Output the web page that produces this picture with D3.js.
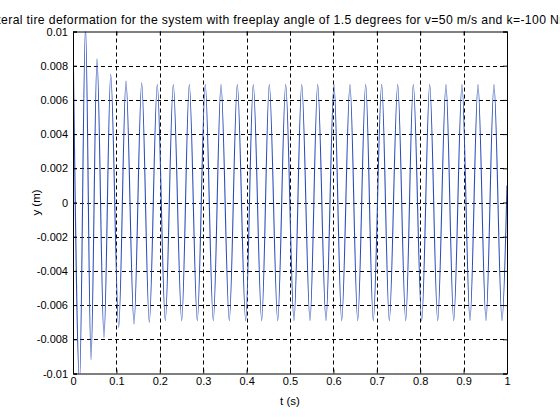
<!DOCTYPE html>
<html>
<head>
<meta charset="utf-8">
<script src="https://cdn.jsdelivr.net/npm/d3@7"></script>
<style>
  body { margin: 0; background: #fff; }
  svg { display: block; font-family: "Liberation Sans", Arial, Helvetica, sans-serif; }
  .axis path, .axis line { stroke: #000; }
  .axis text { font-size: 11px; fill: #000; }
</style>
</head>
<body>
<div id="chart"></div>
<script>
////////////////////////////////////////////////////////////////////////
// Data: key points (start, peaks, troughs, end)

// time of each key point (s)
let keyT = [0, 0.0152, 0.0288, 0.0415, 0.0553, 0.0714, 0.0869, 0.1053,
  0.1221, 0.1406, 0.1583, 0.1758, 0.1942, 0.2127, 0.2311, 0.2505,
  0.2680, 0.2864, 0.3048, 0.3233, 0.3410, 0.3601, 0.3786, 0.3979,
  0.4154, 0.4348, 0.4523, 0.4717, 0.4901, 0.5092, 0.5270, 0.5461,
  0.5638, 0.5829, 0.6014, 0.6191, 0.6382, 0.6560, 0.6744, 0.6919,
  0.7113, 0.7288, 0.7482, 0.7666, 0.7841, 0.8035, 0.8219, 0.8403,
  0.8594, 0.8772, 0.8963, 0.9147, 0.9332, 0.9516, 0.9700, 0.9885, 1.0];

// lateral deformation at each key point (m)
let keyY = [0.0100, -0.0105, 0.0103, -0.0092, 0.0084, -0.0079, 0.0075, -0.0073,
  0.0071, -0.0071, 0.0070, -0.0070, 0.0069, -0.0069, 0.0069, -0.0069,
  0.0069, -0.0069, 0.0069, -0.0069, 0.0069, -0.0069, 0.0069, -0.0069,
  0.0069, -0.0069, 0.0069, -0.0069, 0.0069, -0.0069, 0.0069, -0.0069,
  0.0069, -0.0069, 0.0069, -0.0069, 0.0069, -0.0069, 0.0069, -0.0069,
  0.0069, -0.0069, 0.0069, -0.0069, 0.0069, -0.0069, 0.0069, -0.0069,
  0.0069, -0.0069, 0.0069, -0.0069, 0.0069, -0.0069, 0.0069, -0.0069, 0.0010];

let xTicks = [0, 0.1, 0.2, 0.3, 0.4, 0.5, 0.6, 0.7, 0.8, 0.9, 1];
let xTickLabels = ["0", "0.1", "0.2", "0.3", "0.4", "0.5", "0.6", "0.7", "0.8", "0.9", "1"];
let yTicks = [-0.01, -0.008, -0.006, -0.004, -0.002, 0, 0.002, 0.004, 0.006, 0.008, 0.01];
let yTickLabels = ["-0.01", "-0.008", "-0.006", "-0.004", "-0.002", "0", "0.002", "0.004", "0.006", "0.008", "0.01"];

let titleText = "Lateral tire deformation for the system with freeplay angle of 1.5 degrees for v=50 m/s and k=-100 Nm/rad";
let xLabel = "t (s)";
let yLabel = "y (m)";

////////////////////////////////////////////////////////////////////////
// Layout

let width = 560, height = 420;
let plotLeft = 73, plotRight = 507, plotTop = 31.5, plotBottom = 373.5;

let svg = d3.select("#chart")
  .append("svg")
  .attr("width", width)
  .attr("height", height);

let xScale = d3.scaleLinear().domain([0, 1]).range([plotLeft, plotRight]);
let yScale = d3.scaleLinear().domain([-0.01, 0.01]).range([plotBottom, plotTop]);

// grid (black dashed)
let grid = svg.append("g")
  .attr("stroke", "#000")
  .attr("stroke-width", 1)
  .attr("stroke-dasharray", "4,3");

grid.selectAll(".vgrid")
  .data(xTicks.slice(1, -1))
  .join("line")
  .attr("class", "vgrid")
  .attr("x1", d => Math.round(xScale(d)) + 0.5)
  .attr("x2", d => Math.round(xScale(d)) + 0.5)
  .attr("y1", plotTop)
  .attr("y2", plotBottom);

grid.selectAll(".hgrid")
  .data(yTicks.slice(1, -1))
  .join("line")
  .attr("class", "hgrid")
  .attr("x1", plotLeft)
  .attr("x2", plotRight)
  .attr("y1", d => Math.round(yScale(d)) + 0.5)
  .attr("y2", d => Math.round(yScale(d)) + 0.5);

// the signal, clipped to the axes box
svg.append("clipPath")
  .attr("id", "plotClip")
  .append("rect")
  .attr("x", plotLeft)
  .attr("y", plotTop)
  .attr("width", plotRight - plotLeft)
  .attr("height", plotBottom - plotTop);

let points = keyT.map((t, i) => [t, keyY[i]]);

svg.append("path")
  .datum(points)
  .attr("clip-path", "url(#plotClip)")
  .attr("fill", "none")
  .attr("stroke", "#2c4cba")
  .attr("stroke-width", 1.1)
  .attr("d", d3.line()
    .x(d => xScale(d[0]))
    .y(d => yScale(d[1]))
    .curve(d3.curveMonotoneX));

// axes with inward ticks on all four sides
let tickLen = 4;

svg.append("g")
  .attr("class", "axis")
  .attr("transform", `translate(0, ${plotBottom})`)
  .call(d3.axisBottom(xScale).tickValues(xTicks)
    .tickFormat((d, i) => xTickLabels[i])
    .tickSize(-tickLen).tickPadding(4));

svg.append("g")
  .attr("class", "axis")
  .attr("transform", `translate(0, ${plotTop})`)
  .call(d3.axisTop(xScale).tickValues(xTicks).tickFormat("").tickSize(-tickLen));

svg.append("g")
  .attr("class", "axis")
  .attr("transform", `translate(${plotLeft}, 0)`)
  .call(d3.axisLeft(yScale).tickValues(yTicks)
    .tickFormat((d, i) => yTickLabels[i])
    .tickSize(-tickLen).tickPadding(5));

svg.append("g")
  .attr("class", "axis")
  .attr("transform", `translate(${plotRight}, 0)`)
  .call(d3.axisRight(yScale).tickValues(yTicks).tickFormat("").tickSize(-tickLen));

svg.selectAll(".axis .domain").attr("stroke-width", 1);

// title (wider than the window in the original, so it runs off both edges)
svg.append("text")
  .attr("x", -17)
  .attr("y", 24)
  .attr("text-anchor", "start")
  .style("font-size", "12.2px")
  .style("letter-spacing", "0.37px")
  .text(titleText);

svg.append("text")
  .attr("x", (plotLeft + plotRight) / 2)
  .attr("y", 405)
  .attr("text-anchor", "middle")
  .style("font-size", "11.5px")
  .text(xLabel);

svg.append("text")
  .attr("transform", `translate(40, ${(plotTop + plotBottom) / 2}) rotate(-90)`)
  .attr("text-anchor", "middle")
  .style("font-size", "11.5px")
  .text(yLabel);
</script>
</body>
</html>
